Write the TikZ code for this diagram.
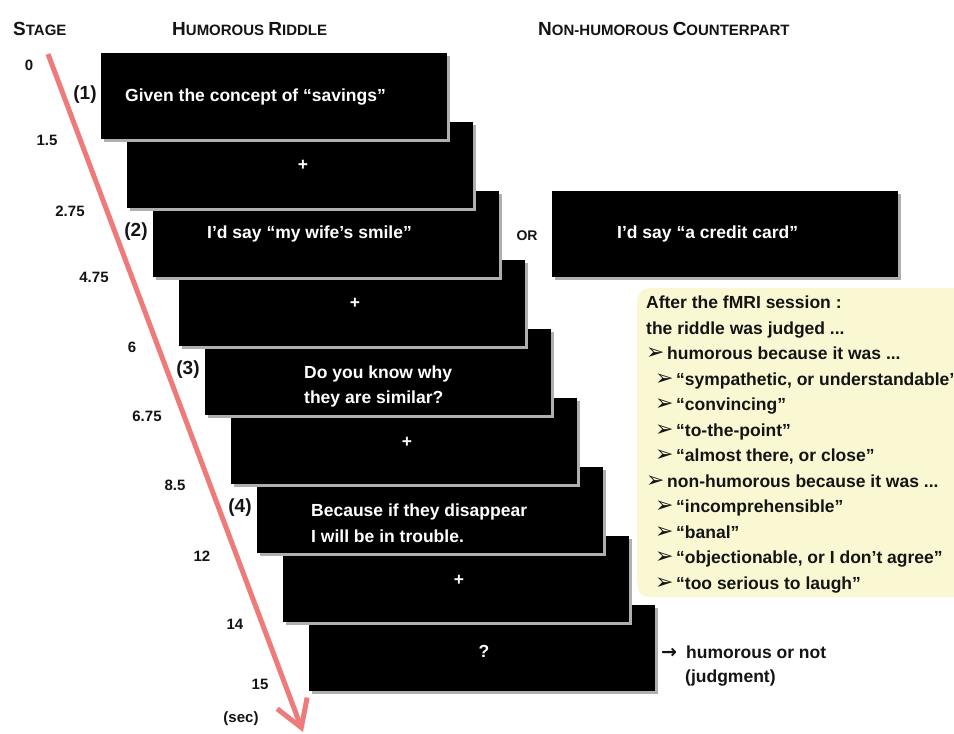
\documentclass[tikz,border=0pt]{standalone}
\usepackage{fontspec}
\setmainfont{Liberation Sans}
\newfontfamily\symfont{DejaVu Sans}
\usetikzlibrary{arrows.meta,shadows}

\definecolor{axisred}{RGB}{238,122,122}
\definecolor{notepaper}{RGB}{250,248,210}
\definecolor{shadowgray}{RGB}{175,175,175}
\definecolor{ink}{RGB}{20,20,20}

% small-caps style heading: large initial, smaller capitals
\newcommand{\capbig}[1]{{\fontsize{19}{19}\selectfont #1}}
\newcommand{\capsmall}[1]{{\fontsize{15}{15}\selectfont #1}}
% arrowhead bullet for the judgement list
\newcommand{\arrowbullet}{\makebox[17pt][l]{\symfont\fontsize{22}{22}\selectfont ➢}\hspace{4pt}}

\tikzset{
  screen/.style={fill=black, draw=none, inner sep=0pt, anchor=north west,
    minimum width=346pt, minimum height=86pt,
    drop shadow={shadow xshift=3pt, shadow yshift=-3pt, fill=shadowgray, opacity=1}},
  scrtext/.style={text=white, inner sep=0pt, font=\bfseries\fontsize{17.5}{25}\selectfont},
  heading/.style={text=ink, inner sep=0pt, anchor=base west, font=\bfseries},
  stagenum/.style={text=ink, inner sep=0pt, font=\bfseries\fontsize{15}{15}\selectfont},
  steplbl/.style={text=ink, inner sep=0pt, font=\bfseries\fontsize{19}{19}\selectfont},
  plain/.style={text=ink, inner sep=0pt, anchor=base west, font=\bfseries\fontsize{17.5}{25.5}\selectfont},
  timeaxis/.style={draw=axisred, line width=5pt,
    -{Straight Barb[length=26pt,width=32pt,line width=5pt]}},
  note/.style={fill=notepaper, draw=none, rounded corners=12pt}
}

\begin{document}
\begin{tikzpicture}[x=1pt,y=-1pt]
\useasboundingbox (0,0) rectangle (954,734);
\clip (0,0) rectangle (954,734);
\fill[white] (0,0) rectangle (954,734);

% column headings
\node[heading] (hstage) at (13,35) {\capbig{S}\capsmall{TAGE}};
\node[heading] (hriddle) at (172,35) {\capbig{H}\capsmall{UMOROUS }\capbig{R}\capsmall{IDDLE}};
\node[heading] (hcounter) at (538,35) {\capbig{N}\capsmall{ON-HUMOROUS }\capbig{C}\capsmall{OUNTERPART}};

% time axis
\coordinate (tstart) at (48,54);
\coordinate (tend) at (303,732);
\draw[timeaxis] (tstart) -- (tend);

% stimulus screens, later screens sit behind earlier ones
\foreach \k in {9,...,1}
  \node[screen] (s\k) at ({101+26*(\k-1)},{53+69*(\k-1)}) {};
\node[screen] (alt) at (552,191) {};

% screen contents
\node[scrtext, anchor=base west] (t1) at (125,101) {Given the concept of “savings”};
\node[scrtext] (t2) at (303,165) {+};
\node[scrtext, anchor=base west] (t3) at (207,238) {I’d say “my wife’s smile”};
\node[scrtext] (t4) at (355,303) {+};
\node[scrtext, anchor=base west] (t5a) at (304,378) {Do you know why};
\node[scrtext, anchor=base west] (t5b) at (304,403) {they are similar?};
\node[scrtext] (t6) at (407,442) {+};
\node[scrtext, anchor=base west] (t7a) at (311,516) {Because if they disappear};
\node[scrtext, anchor=base west] (t7b) at (311,542) {I will be in trouble.};
\node[scrtext] (t8) at (459,580) {+};
\node[scrtext] (t9) at (484,651) {?};
\node[scrtext, anchor=base west] (talt) at (617,238) {I’d say “a credit card”};

\node[stagenum, font=\bfseries\fontsize{14}{14}\selectfont] (orlbl) at (527,236) {OR};

% stage times
\node[stagenum] (n0) at (29,65) {0};
\node[stagenum] (n1) at (47,140) {1.5};
\node[stagenum] (n2) at (70,211) {2.75};
\node[stagenum] (n3) at (94,277) {4.75};
\node[stagenum] (n4) at (132,347) {6};
\node[stagenum] (n5) at (147,416) {6.75};
\node[stagenum] (n6) at (175,485) {8.5};
\node[stagenum] (n7) at (202,556) {12};
\node[stagenum] (n8) at (235,624) {14};
\node[stagenum] (n9) at (260,684) {15};
\node[stagenum] (nsec) at (241,719) {(sec)};

% step numbers
\node[steplbl] (p1) at (85,95) {(1)};
\node[steplbl] (p2) at (136,232) {(2)};
\node[steplbl] (p3) at (188,370) {(3)};
\node[steplbl] (p4) at (240,508) {(4)};

% post-session judgement note
\node[note, anchor=north west, minimum width=340pt, minimum height=309pt] (notebox) at (637,288) {};
\node[plain, anchor=north west, align=left] (notetext) at (646,296) {%
After the fMRI session :\\
the riddle was judged ...\\
\arrowbullet humorous because it was ...\\
\hspace*{9pt}\arrowbullet “sympathetic, or understandable”\\
\hspace*{9pt}\arrowbullet “convincing”\\
\hspace*{9pt}\arrowbullet “to-the-point”\\
\hspace*{9pt}\arrowbullet “almost there, or close”\\
\arrowbullet non-humorous because it was ...\\
\hspace*{9pt}\arrowbullet “incomprehensible”\\
\hspace*{9pt}\arrowbullet “banal”\\
\hspace*{9pt}\arrowbullet “objectionable, or I don’t agree”\\
\hspace*{9pt}\arrowbullet “too serious to laugh”};

% response screen outcome
\node[plain] (jarrow) at (661,658) {{\symfont\fontsize{19}{19}\selectfont →}};
\node[plain] (jd1) at (686,658) {humorous or not};
\node[plain] (jd2) at (685,682) {(judgment)};
\end{tikzpicture}
\end{document}
